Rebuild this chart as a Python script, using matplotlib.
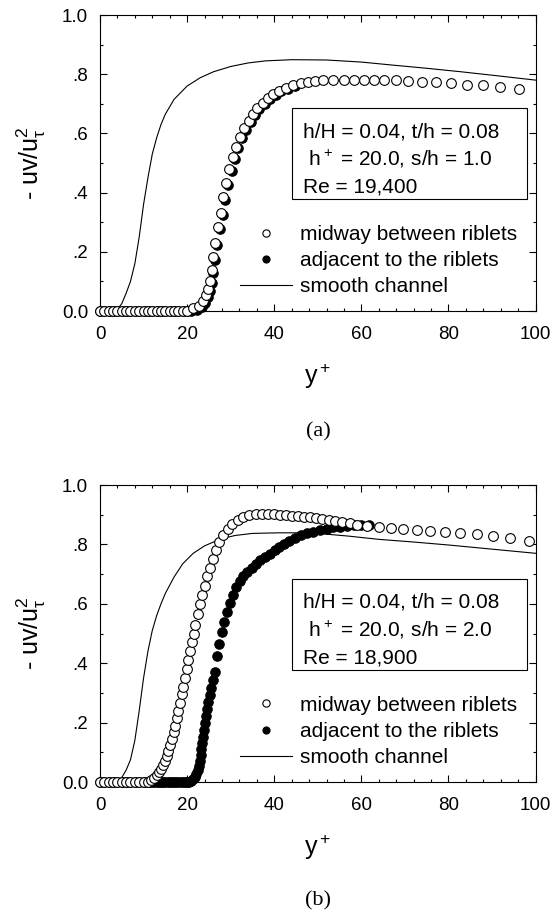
import matplotlib
matplotlib.use('Agg')
import matplotlib.pyplot as plt
from matplotlib.ticker import MultipleLocator, FixedLocator, FixedFormatter
from matplotlib.patches import Rectangle

plt.rcParams['font.family'] = ['Liberation Sans', 'DejaVu Sans']
plt.rcParams['mathtext.fontset'] = 'custom'
plt.rcParams['mathtext.rm'] = 'Liberation Sans'
plt.rcParams['mathtext.it'] = 'Liberation Sans'
plt.rcParams['mathtext.default'] = 'regular'

# ---- panel (a): s/h = 1.0 ----
a_mid_x = [0, 1, 2, 3, 4, 5, 6, 7, 8, 9, 10, 11, 12, 13, 14, 15, 16, 17, 18, 19, 20,
           21.4, 22.8, 23.7, 24.3, 24.9, 25.3, 25.6, 26.0, 26.5, 27.2, 27.7, 28.3, 28.9,
           29.7, 30.5, 31.2, 32.1, 33.1, 34.1, 35.1, 36.1, 37.4, 38.6, 39.8, 41.1, 42.7,
           44.4, 46.1, 47.8, 49.4, 51.3, 53.4, 55.9, 58.2, 60.5, 62.9, 65.2, 67.9, 70.8,
           74.0, 77.2, 80.6, 84.2, 88.0, 91.8, 96.1]
a_mid_y = [0, 0, 0, 0, 0, 0, 0, 0, 0, 0, 0, 0, 0, 0, 0, 0, 0, 0, 0, 0, 0,
           0.009, 0.017, 0.035, 0.054, 0.073, 0.102, 0.139, 0.182, 0.231, 0.285, 0.332,
           0.384, 0.432, 0.479, 0.519, 0.555, 0.589, 0.617, 0.643, 0.667, 0.687, 0.704,
           0.718, 0.732, 0.744, 0.752, 0.762, 0.770, 0.775, 0.778, 0.780, 0.781, 0.781,
           0.781, 0.781, 0.780, 0.780, 0.779, 0.777, 0.775, 0.772, 0.769, 0.765, 0.762,
           0.756, 0.749]

a_adj_x = [0, 1, 2, 3, 4, 5, 6, 7, 8, 9, 10, 11, 12, 13, 14, 15, 16, 17, 18, 19, 20, 21,
           22.2, 23.4, 24.2, 24.8, 25.3, 25.7, 26.0, 26.4, 26.9, 27.6, 28.2, 28.8, 29.4,
           30.2, 31.0, 31.7, 32.6, 33.6, 34.6, 35.6, 36.6, 37.9, 39.1, 40.3, 41.6, 43.1, 44.8]
a_adj_y = [0, 0, 0, 0, 0, 0, 0, 0, 0, 0, 0, 0, 0, 0, 0, 0, 0, 0, 0, 0, 0, 0,
           0.005, 0.012, 0.028, 0.047, 0.068, 0.095, 0.130, 0.172, 0.222, 0.276, 0.325,
           0.376, 0.425, 0.472, 0.513, 0.550, 0.584, 0.613, 0.639, 0.663, 0.684, 0.701,
           0.716, 0.730, 0.742, 0.751, 0.761]

a_smooth_x = [0, 3, 4, 5, 6, 7, 8, 9, 10, 11, 12, 13, 14, 15, 17, 20, 23, 26, 30, 34, 38,
              44, 52, 60, 67, 75, 83, 91, 100]
a_smooth_y = [0, 0, 0.005, 0.025, 0.06, 0.10, 0.16, 0.25, 0.36, 0.45, 0.53, 0.585, 0.63,
              0.665, 0.715, 0.76, 0.788, 0.808, 0.826, 0.838, 0.845, 0.849, 0.848, 0.841,
              0.831, 0.82, 0.808, 0.795, 0.78]

# ---- panel (b): s/h = 2.0 ----
b_mid_x = [0, 1, 2, 3, 4, 5, 6, 7, 8, 9, 10, 11,
           11.8, 12.5, 13.1, 13.6, 14.1, 14.5, 14.9, 15.3, 15.7, 16.1,
           16.5, 16.9, 17.2, 17.6, 18.0, 18.4, 18.8, 19.1, 19.5, 19.9,
           20.3, 20.7, 21.1, 21.5, 21.9, 22.4, 22.9, 23.4, 24.0, 24.6,
           25.2, 25.9, 26.6, 27.4, 28.3, 29.3, 30.4, 31.6, 32.9, 34.3,
           35.7, 37.1, 38.5, 39.9, 41.3, 42.7, 44.1, 45.5, 46.8, 48.2,
           49.6, 51.0, 52.5, 54.0, 55.6, 57.3, 59.1, 61.4, 64.0, 66.8,
           69.6, 72.7, 75.8, 79.2, 82.7, 86.5, 90.3, 94.1, 98.4]
b_mid_y = [0, 0, 0, 0, 0, 0, 0, 0, 0, 0, 0, 0,
           0.006, 0.014, 0.022, 0.033, 0.045, 0.058, 0.072, 0.088, 0.105, 0.125,
           0.146, 0.168, 0.19, 0.215, 0.24, 0.267, 0.295, 0.32, 0.35, 0.38,
           0.41, 0.44, 0.47, 0.50, 0.53, 0.565, 0.598, 0.628, 0.66, 0.692,
           0.72, 0.752, 0.78, 0.808, 0.832, 0.852, 0.868, 0.881, 0.891, 0.898,
           0.901, 0.902, 0.902, 0.901, 0.899, 0.899, 0.897, 0.896, 0.893, 0.891,
           0.888, 0.886, 0.882, 0.879, 0.875, 0.871, 0.866, 0.863, 0.860, 0.856,
           0.853, 0.848, 0.845, 0.842, 0.837, 0.835, 0.828, 0.821, 0.812]

b_adj_x = [0, 1, 2, 3, 4, 5, 6, 7, 8, 9, 10, 11,
           11.5, 12, 12.5, 13, 13.5, 14, 14.5, 15, 15.5, 16, 16.5, 17, 17.5, 18, 18.5,
           19, 19.5, 20, 20.5,
           20.9, 21.3, 21.7, 22.1, 22.4, 22.7, 22.9, 23.1, 23.3, 23.5,
           23.7, 23.9, 24.1, 24.3, 24.6, 24.9, 25.2, 25.5, 25.9, 26.3,
           26.8, 27.3, 27.9, 28.5, 29.1, 29.8, 30.5, 31.3, 32.1, 32.9,
           33.8, 34.8, 35.8, 36.8, 37.9, 39.0, 40.2, 41.2, 42.3, 43.5,
           44.8, 46.2, 47.6, 49.0, 50.5, 52.0, 53.5, 55.0, 56.6, 58.3,
           60.0, 61.8]
b_adj_y = [0, 0, 0, 0, 0, 0, 0, 0, 0, 0, 0, 0,
           0, 0, 0, 0, 0, 0, 0, 0, 0, 0, 0, 0, 0, 0, 0,
           0, 0, 0, 0,
           0.004, 0.01, 0.018, 0.028, 0.04, 0.055, 0.072, 0.09, 0.11, 0.13,
           0.152, 0.175, 0.198, 0.222, 0.246, 0.27, 0.294, 0.318, 0.345, 0.372,
           0.425, 0.465, 0.505, 0.54, 0.572, 0.603, 0.63, 0.655, 0.676, 0.692,
           0.707, 0.722, 0.735, 0.747, 0.758, 0.769, 0.78, 0.79, 0.801, 0.812,
           0.822, 0.83, 0.837, 0.843, 0.848, 0.853, 0.857, 0.86, 0.863, 0.865,
           0.866, 0.867]

b_smooth_x = [0, 3, 4, 5, 6, 7, 8, 9, 10, 11, 12, 13, 14, 15, 17, 19, 21.4, 24, 27.6,
              31, 35, 41, 46, 50, 57, 64, 72, 80, 90, 100]
b_smooth_y = [0, 0, 0.003, 0.015, 0.04, 0.075, 0.14, 0.24, 0.35, 0.44, 0.51, 0.56, 0.6,
              0.635, 0.69, 0.735, 0.77, 0.795, 0.818, 0.83, 0.837, 0.839, 0.839, 0.837,
              0.828, 0.817, 0.808, 0.798, 0.784, 0.77]

a_info = ['h/H = 0.04, t/h = 0.08', r' h$^+$ = 20.0, s/h = 1.0', 'Re = 19,400']
b_info = ['h/H = 0.04, t/h = 0.08', r' h$^+$ = 20.0, s/h = 2.0', 'Re = 18,900']

legend_labels = ['midway between riblets', 'adjacent to the riblets', 'smooth channel']
y_ticks = [0.0, 0.2, 0.4, 0.6, 0.8, 1.0]
y_tick_labels = ['0.0', '.2', '.4', '.6', '.8', '1.0']
x_ticks = [0, 20, 40, 60, 80, 100]

W, H = 559, 913


def draw_panel(ax, mid_x, mid_y, adj_x, adj_y, sm_x, sm_y, info):
    sm, = ax.plot(sm_x, sm_y, color='black', lw=0.8, zorder=2)
    adj, = ax.plot(adj_x, adj_y, 'o', ms=6.8, mfc='black', mec='black', mew=0.8,
                   clip_on=False, zorder=3)
    mid, = ax.plot(mid_x, mid_y, 'o', ms=7.0, mfc='white', mec='black', mew=0.8,
                   clip_on=False, zorder=4)

    ax.set_xlim(0, 100)
    ax.set_ylim(0, 1)
    ax.xaxis.set_major_locator(FixedLocator(x_ticks))
    ax.xaxis.set_minor_locator(MultipleLocator(4))
    ax.yaxis.set_major_locator(FixedLocator(y_ticks))
    ax.yaxis.set_major_formatter(FixedFormatter(y_tick_labels))
    ax.yaxis.set_minor_locator(MultipleLocator(0.1))
    ax.tick_params(which='both', direction='in', top=True, right=True, width=0.8)
    ax.tick_params(which='major', length=5, labelsize=13.5)
    ax.tick_params(axis='x', which='major', pad=11)
    ax.tick_params(axis='y', which='major', pad=8.5)
    ax.tick_params(which='minor', length=2.5)
    for s in ax.spines.values():
        s.set_linewidth(0.8)

    ax.set_xlabel(r'y$^+$', fontsize=18)
    ax.xaxis.set_label_coords(0.5, -0.17)
    ax.set_ylabel(r'- uv/u$_\tau^2$', fontsize=18)
    ax.yaxis.set_label_coords(-0.12, 0.5)

    # parameter box
    ax.add_patch(Rectangle((44.0, 0.378), 54.0, 0.307, fill=False, lw=0.8,
                           ec='black', zorder=5))
    for txt, yy in zip(info, [0.587, 0.49, 0.40]):
        ax.text(46.6, yy, txt, fontsize=15, va='baseline', ha='left', zorder=6)

    ax.legend([mid, adj, sm], legend_labels, loc='upper left',
              bbox_to_anchor=(0.321, 0.291), frameon=False, fontsize=15,
              handlelength=2.5, handletextpad=0.4, labelspacing=0.35,
              borderpad=0, borderaxespad=0, markerscale=0.75)


fig = plt.figure(figsize=(W / 100, H / 100), dpi=100)
ax1 = fig.add_axes([100 / W, 1 - 311 / H, 435.6 / W, 296 / H])
ax2 = fig.add_axes([100 / W, 1 - 782 / H, 435.6 / W, 297 / H])

draw_panel(ax1, a_mid_x, a_mid_y, a_adj_x, a_adj_y, a_smooth_x, a_smooth_y, a_info)
draw_panel(ax2, b_mid_x, b_mid_y, b_adj_x, b_adj_y, b_smooth_x, b_smooth_y, b_info)

fig.text(318 / W, 1 - 432 / H, '(a)', ha='center', va='center',
         family='Liberation Serif', fontsize=16)
fig.text(318 / W, 1 - 901 / H, '(b)', ha='center', va='center',
         family='Liberation Serif', fontsize=16)

fig.savefig('out.png', dpi=100)
